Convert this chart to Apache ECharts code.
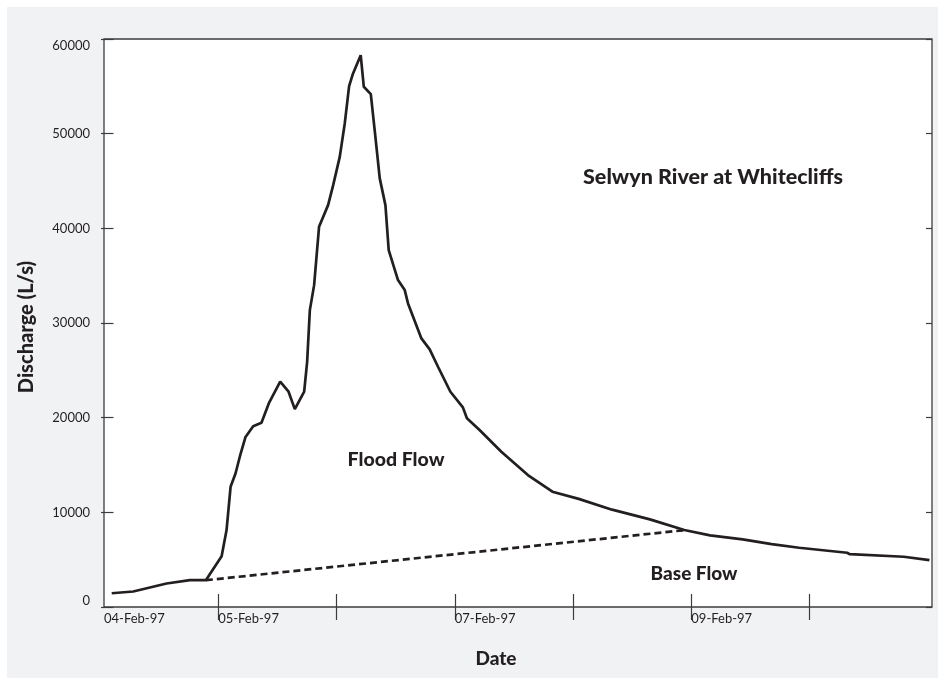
<!DOCTYPE html>
<html>
<head>
<meta charset="utf-8">
<script src="https://cdn.jsdelivr.net/npm/echarts@6/dist/echarts.min.js"></script>
<style>
  html, body { margin: 0; padding: 0; background: #fff; }
  #chart {
    width: 938px;
    height: 679px;
    background: linear-gradient(#f1f2f4, #f1f2f4) 7px 7px / 931px 671px no-repeat, #fff;
  }
</style>
</head>
<body>
<div id="chart"></div>
<script>
// discharge readings, Selwyn River at Whitecliffs
const times = [
  '1997-02-04 02:24', '1997-02-04 06:46', '1997-02-04 10:09', '1997-02-04 13:32',
  '1997-02-04 18:16', '1997-02-04 21:30', '1997-02-05 00:42', '1997-02-05 01:42',
  '1997-02-05 02:31', '1997-02-05 03:31', '1997-02-05 04:24', '1997-02-05 05:33',
  '1997-02-05 07:06', '1997-02-05 08:47', '1997-02-05 10:16', '1997-02-05 12:35',
  '1997-02-05 14:17', '1997-02-05 15:33', '1997-02-05 17:27', '1997-02-05 18:03',
  '1997-02-05 18:36', '1997-02-05 19:28', '1997-02-05 20:28', '1997-02-05 22:18',
  '1997-02-05 23:20', '1997-02-06 00:40', '1997-02-06 01:41', '1997-02-06 02:34',
  '1997-02-06 03:22', '1997-02-06 04:55', '1997-02-06 05:33', '1997-02-06 06:58',
  '1997-02-06 07:54', '1997-02-06 08:47', '1997-02-06 09:56', '1997-02-06 10:36',
  '1997-02-06 12:29', '1997-02-06 13:51', '1997-02-06 14:31', '1997-02-06 17:14',
  '1997-02-06 18:55', '1997-02-06 20:36', '1997-02-06 23:07', '1997-02-07 01:39',
  '1997-02-07 02:28', '1997-02-07 05:02', '1997-02-07 09:27', '1997-02-07 14:50',
  '1997-02-07 19:49', '1997-02-08 01:09', '1997-02-08 07:55', '1997-02-08 15:36',
  '1997-02-08 22:34', '1997-02-09 03:48', '1997-02-09 10:25', '1997-02-09 16:18',
  '1997-02-09 21:52', '1997-02-10 07:36', '1997-02-10 08:10', '1997-02-10 19:06',
  '1997-02-11 00:19'
];
const flow = [
  1450, 1640, 2060, 2480,
  2830, 2830, 5370, 8130,
  12700, 14100, 15900, 17960,
  19100, 19460, 21500, 23800,
  22740, 20900, 22740, 25900,
  31360, 34000, 40160, 42450,
  44560, 47550, 51080, 55020,
  56360, 58290, 54950, 54180,
  49670, 45280, 42450, 37700,
  34530, 33480, 32070, 28370,
  27210, 25380, 22740, 21090,
  19930, 18690, 16400, 13940,
  12180, 11420, 10280, 9260,
  8130, 7570, 7150, 6650,
  6260, 5730, 5580, 5310,
  4960
];

// straight base flow separation line
const baseTimes = ['1997-02-04 21:30', '1997-02-08 22:20'];
const baseFlow = [2830, 8100];

// axis: hours after 04-Feb-97 00:00
const xStart = '1997-02-04 00:50';
const xEnd = '1997-02-11 00:50';
const tickTimes = ['1997-02-05 00:00', '1997-02-06 00:00', '1997-02-07 00:00',
  '1997-02-08 00:00', '1997-02-09 00:00', '1997-02-10 00:00'];
const labelTimes = [xStart, '1997-02-05 00:00', '1997-02-07 00:00', '1997-02-09 00:00'];

function toHours(s) {
  const [d, t] = s.split(' ');
  const [y, m, day] = d.split('-').map(Number);
  const [h, mi] = t.split(':').map(Number);
  return (Date.UTC(y, m - 1, day, h, mi) - Date.UTC(1997, 1, 4)) / 3600000;
}

const xMin = toHours(xStart);
const xMax = toHours(xEnd);
const ink = '#231f20';
const frame = '#3c3c3c';

function note(text, x, y, size, extra) {
  return Object.assign({
    type: 'text', x: x, y: y,
    style: {
      text: text, font: '900 ' + size + 'px Lato', fill: ink,
      textAlign: 'center', textVerticalAlign: 'middle', align: 'center', verticalAlign: 'middle'
    }
  }, extra || {});
}

const myChart = echarts.init(document.getElementById('chart'));
const option = {
  animation: false,
  grid: {
    left: 104, top: 39, width: 828, height: 568,
    show: true, backgroundColor: '#fff', borderColor: frame, borderWidth: 1.3,
    outerBoundsMode: 'none'
  },
  xAxis: [
    {
      type: 'value', position: 'bottom', min: xMin, max: xMax, offset: 3,
      axisLine: { show: false },
      splitLine: { show: false },
      axisTick: {
        inside: true, length: 13, customValues: tickTimes.map(toHours),
        lineStyle: { color: frame, width: 1.2 }
      },
      axisLabel: {
        customValues: labelTimes.map(toHours),
        align: 'left', margin: 2,
        color: ink, fontFamily: 'Lato', fontSize: 13,
        formatter: v => String(Math.floor(v / 24) + 4).padStart(2, '0') + '-Feb-97'
      }
    },
    {
      type: 'value', position: 'top', min: xMin, max: xMax, offset: 5,
      axisLine: { show: false },
      splitLine: { show: false },
      axisTick: {
        inside: true, length: 13, customValues: tickTimes.map(toHours),
        lineStyle: { color: frame, width: 1.2 }
      },
      axisLabel: { show: false }
    }
  ],
  yAxis: [
    {
      type: 'value', position: 'left', min: 0, max: 60000, interval: 10000, offset: 3,
      axisLine: { show: false },
      splitLine: { show: false },
      axisTick: { inside: true, length: 12.5, lineStyle: { color: frame, width: 1.2 } },
      axisLabel: {
        margin: 11, color: ink, fontFamily: 'Lato', fontSize: 13,
        formatter: v => String(v),
        verticalAlignMinLabel: 'bottom', verticalAlignMaxLabel: 'top'
      }
    },
    {
      type: 'value', position: 'right', min: 0, max: 60000, interval: 10000,
      axisLine: { show: false },
      splitLine: { show: false },
      axisTick: { inside: true, length: 6, lineStyle: { color: frame, width: 1.2 } },
      axisLabel: { show: false }
    }
  ],
  series: [
    {
      name: 'Base Flow',
      type: 'line',
      symbol: 'none',
      data: baseTimes.map((t, i) => [toHours(t), baseFlow[i]]),
      lineStyle: { color: ink, width: 2.7, type: [7, 4] }
    },
    {
      name: 'Discharge',
      type: 'line',
      symbol: 'none',
      data: times.map((t, i) => [toHours(t), flow[i]]),
      lineStyle: { color: ink, width: 2.7 }
    }
  ],
  graphic: [
    note('Selwyn River at Whitecliffs', 713, 177, 21.5),
    note('Flood Flow', 396, 460, 19.5),
    note('Base Flow', 694, 574, 19),
    note('Date', 496, 659, 19),
    note('Discharge (L/s)', 27, 327, 20, { rotation: Math.PI / 2 })
  ]
};
myChart.setOption(option);
</script>
</body>
</html>
